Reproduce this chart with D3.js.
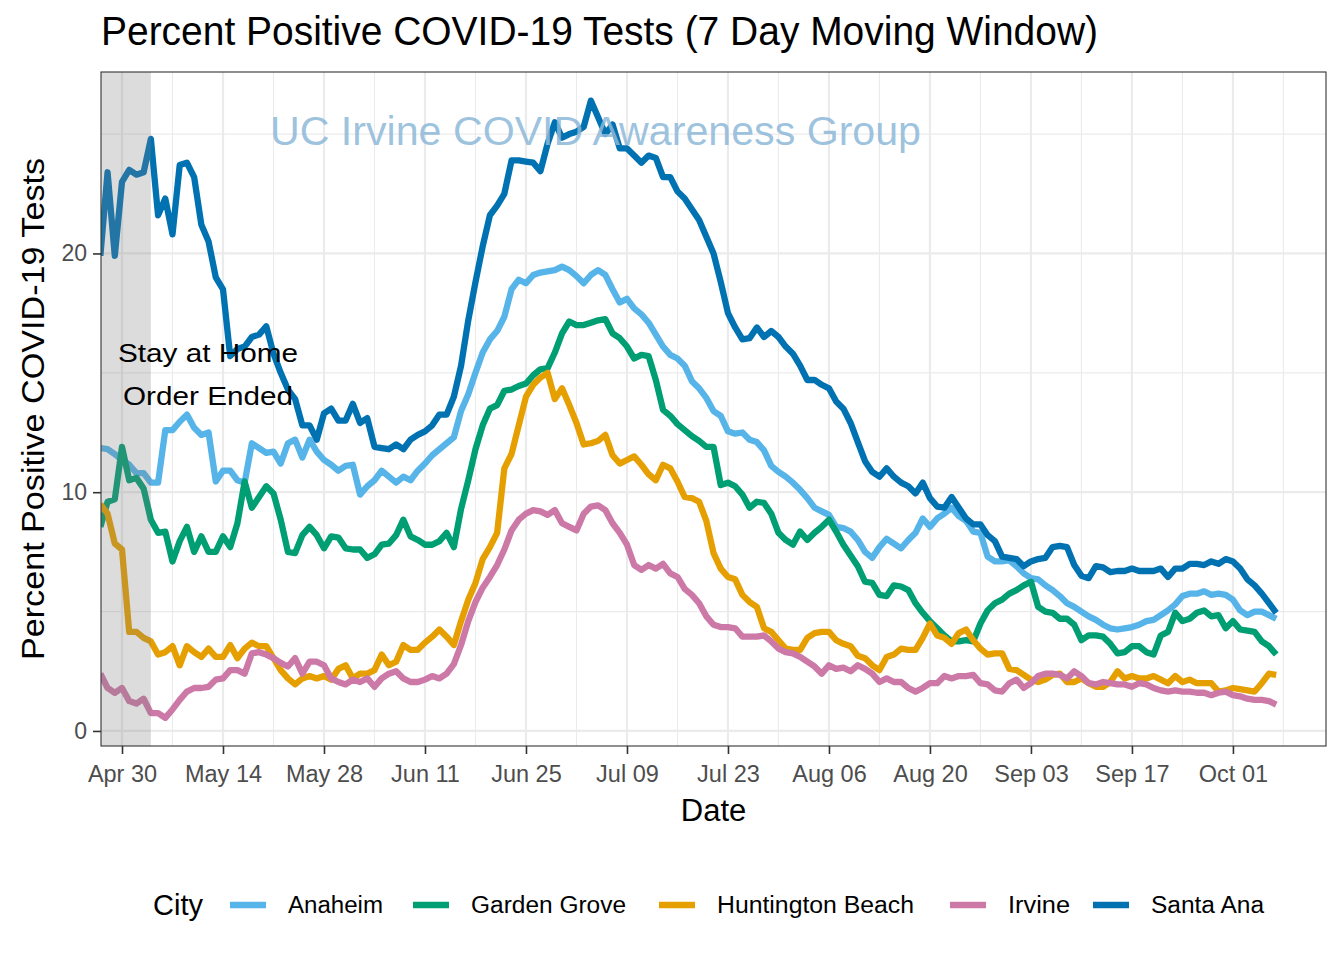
<!DOCTYPE html>
<html>
<head>
<meta charset="utf-8">
<script src="https://cdn.jsdelivr.net/npm/d3@7"></script>
<style>
  html, body { margin: 0; padding: 0; background: #ffffff; }
  svg { display: block; }
  text { font-family: "Liberation Sans", Arial, sans-serif; }
</style>
</head>
<body>
<svg id="chart" width="1344" height="960"></svg>
<script>
// ---------------- DATA ----------------
const startDate = "2020-04-27";   // first day of the daily series
const cities = ["Anaheim", "Garden Grove", "Huntington Beach", "Irvine", "Santa Ana"];
const cityColors = ["#56B4E9", "#009E73", "#E69F00", "#CC79A7", "#0072B2"];

const anaheim = [
  11.85, 11.8, 11.6, 11.35, 11.15, 10.8, 10.8, 10.4, 10.4, 12.6,
  12.6, 12.95, 13.25, 12.7, 12.4, 12.5, 10.45, 10.9, 10.9, 10.5,
  10.4, 12.05, 11.85, 11.65, 11.7, 11.2, 12.05, 12.2, 11.45, 12.2,
  11.7, 11.35, 11.15, 10.9, 11.1, 11.15, 9.9, 10.25, 10.5, 10.9,
  10.65, 10.4, 10.65, 10.5, 10.9, 11.2, 11.55, 11.8, 12.05, 12.3,
  13.4, 14.1, 15.0, 15.85, 16.4, 16.75, 17.35, 18.5, 18.9, 18.75,
  19.1, 19.2, 19.25, 19.3, 19.45, 19.3, 19.05, 18.75, 19.1, 19.3,
  19.1, 18.5, 17.95, 18.1, 17.7, 17.45, 17.1, 16.6, 16.1, 15.75,
  15.6, 15.3, 14.65, 14.35, 13.95, 13.4, 13.2, 12.55, 12.45, 12.5,
  12.2, 12.1, 11.75, 11.1, 10.85, 10.65, 10.4, 10.1, 9.75, 9.35,
  9.2, 9.05, 8.55, 8.5, 8.35, 8.0, 7.5, 7.25, 7.7, 8.05,
  7.85, 7.65, 8.0, 8.3, 8.9, 8.55, 8.9, 9.1, 9.35, 9.0,
  8.8, 8.35, 8.3, 7.3, 7.1, 7.1, 7.15, 6.9, 6.6, 6.4,
  6.35, 6.1, 5.9, 5.65, 5.35, 5.2, 5.0, 4.8, 4.65, 4.45,
  4.3, 4.25, 4.3, 4.35, 4.45, 4.6, 4.65, 4.85, 5.05, 5.3,
  5.65, 5.75, 5.75, 5.85, 5.7, 5.75, 5.7, 5.5, 5.05, 4.85,
  5.0, 5.0, 4.85, 4.7
];

const gardenGrove = [
  8.55, 9.6, 9.7, 11.9, 10.5, 10.6, 10.15, 8.85, 8.3, 8.35,
  7.1, 7.95, 8.55, 7.5, 8.15, 7.5, 7.5, 8.15, 7.7, 8.7,
  10.45, 9.35, 9.8, 10.25, 9.95, 8.85, 7.5, 7.45, 8.2, 8.55,
  8.2, 7.65, 8.15, 8.1, 7.65, 7.6, 7.6, 7.25, 7.4, 7.8,
  7.85, 8.2, 8.85, 8.15, 8.0, 7.8, 7.8, 7.95, 8.3, 7.7,
  9.3, 10.5, 11.8, 12.8, 13.5, 13.65, 14.25, 14.3, 14.45, 14.55,
  14.9, 15.15, 15.2, 15.85, 16.65, 17.15, 17.0, 17.0, 17.1, 17.2,
  17.25, 16.65, 16.45, 16.1, 15.6, 15.75, 15.7, 14.7, 13.45, 13.2,
  12.85, 12.6, 12.35, 12.15, 11.9, 11.9, 10.3, 10.4, 10.25, 9.9,
  9.35, 9.6, 9.55, 9.1, 8.3, 8.0, 7.8, 8.35, 8.0, 8.3,
  8.55, 8.85, 8.35, 7.8, 7.35, 6.9, 6.25, 6.2, 5.7, 5.65,
  6.1, 6.05, 5.9, 5.35, 4.95, 4.6, 4.3, 4.0, 3.75, 3.75,
  3.8, 3.75, 4.5, 5.05, 5.35, 5.5, 5.75, 5.9, 6.1, 6.25,
  5.2, 5.0, 4.95, 4.7, 4.7, 4.45, 3.8, 4.0, 4.0, 3.95,
  3.65, 3.25, 3.3, 3.55, 3.55, 3.3, 3.2, 4.0, 4.15, 4.95,
  4.6, 4.7, 4.95, 5.05, 4.8, 4.85, 4.3, 4.6, 4.25, 4.2,
  4.15, 3.75, 3.55, 3.2
];

const huntingtonBeach = [
  9.5, 9.1, 7.85, 7.6, 4.15, 4.15, 3.9, 3.75, 3.2, 3.3,
  3.55, 2.75, 3.55, 3.3, 3.1, 3.45, 3.1, 3.1, 3.6, 3.05,
  3.45, 3.7, 3.55, 3.55, 3.05, 2.55, 2.2, 1.95, 2.2, 2.3,
  2.2, 2.3, 2.15, 2.6, 2.75, 2.2, 2.4, 2.4, 2.55, 3.2,
  2.75, 2.9, 3.6, 3.4, 3.4, 3.7, 3.95, 4.25, 3.95, 3.6,
  4.6, 5.5, 6.2, 7.2, 7.7, 8.3, 11.0, 11.6, 12.8, 14.0,
  14.5, 14.8, 15.0, 13.9, 14.35, 13.65, 12.9, 12.0, 12.05, 12.15,
  12.4, 11.55, 11.2, 11.35, 11.5, 11.15, 10.75, 10.5, 11.15, 11.0,
  10.45, 9.8, 9.75, 9.6, 8.8, 7.45, 6.8, 6.45, 6.35, 5.7,
  5.4, 5.2, 4.3, 4.15, 3.8, 3.45, 3.4, 3.4, 3.9, 4.1,
  4.15, 4.15, 3.8, 3.65, 3.55, 3.15, 3.05, 2.75, 2.55, 3.1,
  3.2, 3.45, 3.4, 3.4, 3.9, 4.5, 4.0, 3.9, 3.65, 4.1,
  4.25, 3.8, 3.45, 3.2, 3.25, 3.25, 2.6, 2.55, 2.35, 2.15,
  2.05, 2.15, 2.35, 2.4, 2.05, 2.05, 2.2, 2.0, 1.85, 1.85,
  2.05, 2.5, 2.2, 2.3, 2.2, 2.2, 2.3, 2.15, 2.0, 2.3,
  2.05, 2.15, 2.0, 2.0, 2.0, 1.65, 1.7, 1.8, 1.75, 1.7,
  1.65, 2.0, 2.4, 2.35
];

const irvine = [
  2.4, 1.8, 1.6, 1.8, 1.25, 1.15, 1.35, 0.75, 0.75, 0.55,
  0.9, 1.3, 1.65, 1.8, 1.8, 1.85, 2.15, 2.2, 2.55, 2.55,
  2.4, 3.25, 3.3, 3.2, 3.05, 2.85, 2.7, 3.05, 2.4, 2.9,
  2.9, 2.75, 2.2, 2.05, 1.95, 2.15, 2.05, 2.2, 1.85, 2.2,
  2.4, 2.5, 2.2, 2.05, 2.05, 2.15, 2.3, 2.2, 2.4, 2.8,
  3.6, 4.6, 5.4, 6.0, 6.45, 6.95, 7.6, 8.4, 8.85, 9.1,
  9.25, 9.2, 9.05, 9.25, 8.7, 8.55, 8.4, 9.1, 9.4, 9.45,
  9.25, 8.7, 8.3, 7.8, 6.95, 6.75, 6.95, 6.8, 7.0, 6.6,
  6.45, 5.95, 5.7, 5.35, 4.8, 4.45, 4.35, 4.35, 4.3, 3.95,
  3.95, 3.95, 4.0, 3.75, 3.45, 3.3, 3.25, 3.1, 2.9, 2.7,
  2.4, 2.75, 2.6, 2.65, 2.5, 2.75, 2.6, 2.4, 2.05, 2.2,
  2.05, 2.05, 1.8, 1.65, 1.8, 2.0, 2.0, 2.3, 2.2, 2.3,
  2.3, 2.35, 2.0, 1.95, 1.7, 1.65, 2.0, 2.15, 1.8, 2.0,
  2.3, 2.4, 2.4, 2.35, 2.2, 2.5, 2.3, 2.0, 1.95, 2.05,
  2.0, 1.95, 1.95, 1.85, 2.0, 1.95, 1.8, 1.7, 1.65, 1.7,
  1.65, 1.65, 1.6, 1.6, 1.5, 1.6, 1.65, 1.5, 1.45, 1.35,
  1.3, 1.3, 1.25, 1.1
];

const santaAna = [
  19.9, 23.4, 19.9, 23.0, 23.5, 23.3, 23.4, 24.8, 21.6, 22.3,
  20.8, 23.7, 23.8, 23.2, 21.2, 20.5, 19.0, 18.5, 15.7, 16.0,
  16.1, 16.5, 16.6, 16.95, 15.8, 15.0, 14.3, 13.9, 12.8, 12.8,
  12.2, 13.3, 13.5, 13.0, 13.0, 13.7, 12.9, 13.1, 11.9, 11.85,
  11.8, 12.0, 11.8, 12.2, 12.4, 12.55, 12.8, 13.25, 13.25, 14.0,
  15.3, 17.2, 18.8, 20.3, 21.6, 22.0, 22.5, 23.9, 23.9, 23.85,
  23.8, 23.45, 24.6, 25.5, 24.85, 25.0, 25.1, 25.3, 26.4, 25.7,
  25.0, 25.4, 24.4, 24.4, 24.1, 23.8, 24.1, 24.0, 23.2, 23.2,
  22.6, 22.3, 21.85, 21.4, 20.7, 20.0, 18.8, 17.5, 16.9, 16.4,
  16.45, 16.9, 16.5, 16.75, 16.5, 16.1, 15.8, 15.3, 14.7, 14.7,
  14.5, 14.35, 13.8, 13.5, 12.9, 12.1, 11.3, 10.85, 10.65, 11.0,
  10.65, 10.4, 10.25, 9.95, 10.4, 9.75, 9.4, 9.35, 9.8, 9.35,
  8.9, 8.65, 8.65, 8.2, 7.95, 7.3, 7.25, 7.2, 6.9, 7.1,
  7.2, 7.25, 7.7, 7.75, 7.7, 6.95, 6.5, 6.4, 6.9, 6.85,
  6.65, 6.7, 6.7, 6.8, 6.7, 6.7, 6.7, 6.8, 6.45, 6.8,
  6.8, 7.0, 7.0, 6.95, 7.1, 7.0, 7.2, 7.1, 6.8, 6.35,
  6.1, 5.75, 5.35, 4.95
];

const seriesValues = [anaheim, gardenGrove, huntingtonBeach, irvine, santaAna];

const xTickDates = ["2020-04-30", "2020-05-14", "2020-05-28", "2020-06-11", "2020-06-25",
  "2020-07-09", "2020-07-23", "2020-08-06", "2020-08-20", "2020-09-03", "2020-09-17", "2020-10-01"];
const xMinorDates = ["2020-05-07", "2020-05-21", "2020-06-04", "2020-06-18", "2020-07-02",
  "2020-07-16", "2020-07-30", "2020-08-13", "2020-08-27", "2020-09-10", "2020-09-24", "2020-10-08"];
const yTicks = [0, 10, 20];
const yMinor = [5, 15, 25];
const shadeRange = ["2020-04-27", "2020-05-04"];   // stay-at-home order period
const xDomain = ["2020-04-27T02:08:00Z", "2020-10-13T21:36:00Z"];
const yDomain = [-0.63, 27.6];

const titleText = "Percent Positive COVID-19 Tests (7 Day Moving Window)";
const yTitle = "Percent Positive COVID-19 Tests";
const xTitle = "Date";
const legendTitle = "City";
const annotation = ["Stay at Home", "Order Ended"];
const watermark = "UC Irvine COVID Awareness Group";

// ---------------- DRAW ----------------
const svg = d3.select("#chart");
const P = { left: 101, right: 1326, top: 72, bottom: 746 };

const parse = d3.utcParse("%Y-%m-%d");
const start = parse(startDate);

const x = d3.scaleUtc()
  .domain(xDomain.map(s => new Date(s)))
  .range([P.left, P.right]);
const y = d3.scaleLinear().domain(yDomain).range([P.bottom, P.top]);

svg.append("rect").attr("width", 1344).attr("height", 960).attr("fill", "#ffffff");

svg.append("defs").append("clipPath").attr("id", "panelClip")
  .append("rect").attr("x", P.left).attr("y", P.top)
  .attr("width", P.right - P.left).attr("height", P.bottom - P.top);

svg.append("rect").attr("x", P.left).attr("y", P.top)
  .attr("width", P.right - P.left).attr("height", P.bottom - P.top)
  .attr("fill", "#ffffff");

const grid = svg.append("g").attr("clip-path", "url(#panelClip)");
grid.selectAll(".xminor").data(xMinorDates).join("line")
  .attr("x1", d => x(parse(d))).attr("x2", d => x(parse(d)))
  .attr("y1", P.top).attr("y2", P.bottom)
  .attr("stroke", "#EBEBEB").attr("stroke-width", 1.1);
grid.selectAll(".yminor").data(yMinor).join("line")
  .attr("x1", P.left).attr("x2", P.right)
  .attr("y1", d => y(d)).attr("y2", d => y(d))
  .attr("stroke", "#EBEBEB").attr("stroke-width", 1.1);
grid.selectAll(".xmajor").data(xTickDates).join("line")
  .attr("x1", d => x(parse(d))).attr("x2", d => x(parse(d)))
  .attr("y1", P.top).attr("y2", P.bottom)
  .attr("stroke", "#EBEBEB").attr("stroke-width", 2.2);
grid.selectAll(".ymajor").data(yTicks).join("line")
  .attr("x1", P.left).attr("x2", P.right)
  .attr("y1", d => y(d)).attr("y2", d => y(d))
  .attr("stroke", "#EBEBEB").attr("stroke-width", 2.2);

const lineGen = d3.line()
  .x((d, i) => x(d3.utcDay.offset(start, i)))
  .y(d => y(d));

const linesG = svg.append("g").attr("clip-path", "url(#panelClip)");
seriesValues.forEach((vals, k) => {
  linesG.append("path")
    .attr("d", lineGen(vals))
    .attr("fill", "none")
    .attr("stroke", cityColors[k])
    .attr("stroke-width", 6.3)
    .attr("stroke-linejoin", "round")
    .attr("stroke-linecap", "butt");
});

linesG.append("rect")
  .attr("x", x(parse(shadeRange[0])))
  .attr("width", x(parse(shadeRange[1])) - x(parse(shadeRange[0])))
  .attr("y", P.top).attr("height", P.bottom - P.top)
  .attr("fill", "#7F7F7F").attr("fill-opacity", 0.27);

svg.append("text")
  .attr("x", 270).attr("y", 145)
  .attr("font-size", 41)
  .attr("fill", "#8DB8D8").attr("fill-opacity", 0.85)
  .attr("textLength", 651).attr("lengthAdjust", "spacingAndGlyphs")
  .text(watermark);

svg.append("text").attr("x", 208).attr("y", 362)
  .attr("text-anchor", "middle").attr("font-size", 26).attr("fill", "#000")
  .attr("textLength", 180).attr("lengthAdjust", "spacingAndGlyphs")
  .text(annotation[0]);
svg.append("text").attr("x", 208).attr("y", 405)
  .attr("text-anchor", "middle").attr("font-size", 26).attr("fill", "#000")
  .attr("textLength", 170).attr("lengthAdjust", "spacingAndGlyphs")
  .text(annotation[1]);

svg.append("rect").attr("x", P.left).attr("y", P.top)
  .attr("width", P.right - P.left).attr("height", P.bottom - P.top)
  .attr("fill", "none").attr("stroke", "#333333").attr("stroke-width", 1.1);

const fmt = d3.utcFormat("%b %d");
const xAxis = d3.axisBottom(x)
  .tickValues(xTickDates.map(parse))
  .tickFormat(fmt)
  .tickSize(8).tickPadding(11);
const gx = svg.append("g").attr("transform", `translate(0,${P.bottom})`).call(xAxis);
gx.select(".domain").remove();
gx.selectAll(".tick line").attr("stroke", "#333333").attr("stroke-width", 1.6);
gx.selectAll(".tick text").attr("font-size", 23.5).attr("fill", "#4D4D4D")
  .attr("font-family", "'Liberation Sans', Arial, sans-serif").attr("dy", "0.71em");

const yAxis = d3.axisLeft(y).tickValues(yTicks).tickFormat(d3.format("d"))
  .tickSize(8).tickPadding(6);
const gy = svg.append("g").attr("transform", `translate(${P.left},0)`).call(yAxis);
gy.select(".domain").remove();
gy.selectAll(".tick line").attr("stroke", "#333333").attr("stroke-width", 1.6);
gy.selectAll(".tick text").attr("font-size", 23).attr("fill", "#4D4D4D")
  .attr("font-family", "'Liberation Sans', Arial, sans-serif");

svg.append("text").attr("x", 101).attr("y", 45)
  .attr("font-size", 40).attr("fill", "#000")
  .attr("textLength", 997).attr("lengthAdjust", "spacingAndGlyphs")
  .text(titleText);

svg.append("text").attr("x", (P.left + P.right) / 2).attr("y", 821)
  .attr("text-anchor", "middle").attr("font-size", 31).attr("fill", "#000")
  .text(xTitle);

svg.append("text")
  .attr("transform", `translate(44,${(P.top + P.bottom) / 2}) rotate(-90)`)
  .attr("text-anchor", "middle").attr("font-size", 31).attr("fill", "#000")
  .attr("textLength", 502).attr("lengthAdjust", "spacingAndGlyphs")
  .text(yTitle);

const legendY = 905;
svg.append("text").attr("x", 153).attr("y", legendY + 10)
  .attr("font-size", 29).attr("fill", "#000").text(legendTitle);
const keyX = [230, 413, 659, 950, 1093];
const labelW = [95, 155, 197, 62, 113];
const lg = svg.append("g");
cities.forEach((c, k) => {
  lg.append("line")
    .attr("x1", keyX[k]).attr("x2", keyX[k] + 36)
    .attr("y1", legendY).attr("y2", legendY)
    .attr("stroke", cityColors[k]).attr("stroke-width", 6.5);
  lg.append("text")
    .attr("x", keyX[k] + 58).attr("y", legendY + 8)
    .attr("font-size", 23).attr("fill", "#000")
    .attr("textLength", labelW[k]).attr("lengthAdjust", "spacingAndGlyphs")
    .text(c);
});
</script>
</body>
</html>
